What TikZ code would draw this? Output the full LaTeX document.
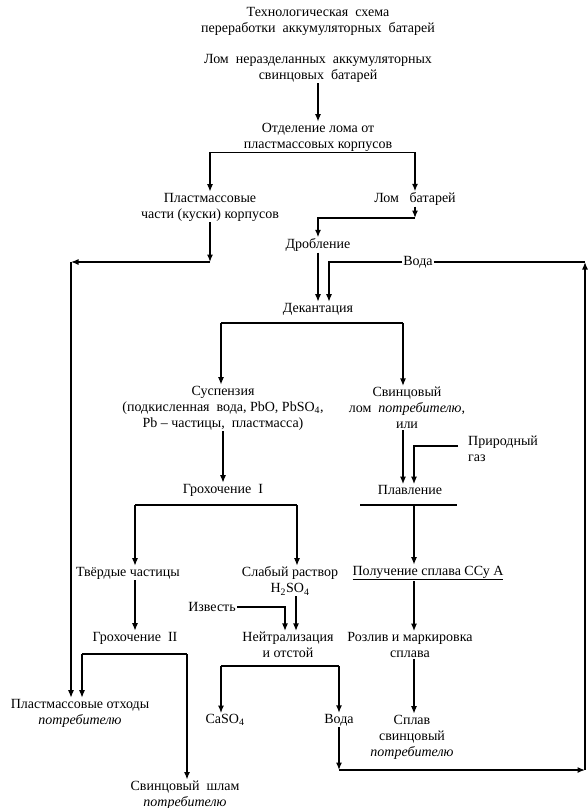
\documentclass[tikz,border=0pt]{standalone}
\usepackage{fontspec}
\setmainfont{Liberation Serif}
\usetikzlibrary{arrows.meta}

\tikzset{
  txt/.style={inner sep=1pt, align=center, font=\fontsize{14}{16}\selectfont},
  arr/.style={-{Latex[length=7.5pt,width=6pt]}, line width=1.3pt},
  ln/.style={line width=1.2pt},
}

\begin{document}
\begin{tikzpicture}[x=1pt,y=1pt,yscale=-1,xscale=1]
\useasboundingbox (0,0) rectangle (587,808);

% Text Node
\node[txt] (title) at (318,21) {Технологическая~~схема\\переработки~~аккумуляторных~~батарей};
% Text Node
\node[txt] (lom) at (318,68) {Лом~~неразделанных~~аккумуляторных\\свинцовых~~батарей};
% Text Node
\node[txt] (otdel) at (318,137) {Отделение лома от\\пластмассовых корпусов};
% Text Node
\node[txt] (plast) at (210,207) {Пластмассовые\\части (куски) корпусов};
% Text Node
\node[txt] (lomb) at (415,199) {Лом~~~батарей};
% Text Node
\node[txt] (drob) at (318,245) {Дробление};
% Text Node
\node[txt] (voda1) at (418,262) {Вода};
% Text Node
\node[txt] (dekant) at (318,309) {Декантация};
% Text Node
\node[txt] (susp) at (223,408) {Суспензия\\(подкисленная~~вода, PbO, PbSO\textsubscript{4},\\Pb – частицы,~~пластмасса)};
% Text Node
\node[txt] (svlom) at (407,408) {Свинцовый\\лом~~\textit{потребителю},\\или};
% Text Node
\node[txt, anchor=west, align=left] (prirod) at (467,449) {Природный\\газ};
% Text Node
\node[txt] (groh1) at (223,490) {Грохочение~~I};
% Text Node
\node[txt] (plav) at (410,490) {Плавление};
% Text Node
\node[txt] (tverd) at (128,573) {Твёрдые частицы};
% Text Node
\node[txt] (slab) at (290,581) {Слабый раствор\\H\textsubscript{2}SO\textsubscript{4}};
% Text Node
\node[txt] (polu) at (428,573) {\underline{Получение сплава ССу А}};
% Text Node
\node[txt] (izvest) at (212,607) {Известь};
% Text Node
\node[txt] (groh2) at (135,638) {Грохочение~~II};
% Text Node
\node[txt] (neutr) at (288,645) {Нейтрализация\\и отстой};
% Text Node
\node[txt] (rozliv) at (410,645) {Розлив и маркировка\\сплава};
% Text Node
\node[txt] (plotx) at (80,713) {Пластмассовые отходы\\\textit{потребителю}};
% Text Node
\node[txt] (caso4) at (225,720) {CaSO\textsubscript{4}};
% Text Node
\node[txt] (voda2) at (339,720) {Вода};
% Text Node
\node[txt] (splav) at (412,737) {Сплав\\свинцовый\\\textit{потребителю}};
% Text Node
\node[txt] (shlam) at (185,795) {Свинцовый~~шлам\\\textit{потребителю}};

% bends of the connectors
\coordinate (k1) at (415,218);
\coordinate (p1) at (210,262);
\coordinate (p2) at (71,262);
\coordinate (ne) at (585,262);
\coordinate (se) at (585,770);
\coordinate (sw) at (voda2 |- se);
\coordinate (d1) at (221,323);
\coordinate (d2) at (403,323);
\coordinate (g1l) at (135,505);
\coordinate (g1r) at (297,505);
\coordinate (pl1) at (360,505);
\coordinate (pl2) at (457,505);
\coordinate (pl0) at (414,505);
\coordinate (h1) at (82,654);
\coordinate (h2) at (187,654);
\coordinate (n1) at (221,666);
\coordinate (n2) at (339,666);

%Straight Lines
\draw[arr] (lom) -- (otdel);
\draw[arr] (otdel.south) -| (plast);
\draw[arr] (otdel.south) -| (lomb);
\draw[arr] (lomb) -- (k1);
\draw[arr] (k1) -| (drob);
%Straight Lines
\draw[arr] (plast) -- (p1);
\draw[arr] (p1) -- (p2);
\draw[arr] (p2) -- (p2 |- plotx.north);
%Straight Lines
\draw[ln] (voda1) -- (ne);
\draw[arr] (voda1) -| ([xshift=11pt]dekant.north);
\draw[arr] (drob) -- (drob |- dekant.north);
%Straight Lines
\draw[ln] (d1) -- (d2);
\draw[arr] (d1) -- (d1 |- susp.north);
\draw[arr] (d2) -- (d2 |- svlom.north);
\draw[arr] (susp) -- (groh1);
\draw[arr] ([xshift=-4pt]svlom.south) -- ([xshift=-4pt]svlom.south |- plav.north);
\draw[arr] ([xshift=-9pt,yshift=-3pt]prirod.west) -| (pl0 |- plav.north);
%Straight Lines
\draw[ln] (g1l) -- (g1r);
\draw[arr] (g1l) -- (g1l |- tverd.north);
\draw[arr] (g1r) -- (g1r |- slab.north);
\draw[ln] (pl1) -- (pl2);
\draw[arr] (pl0) -- (pl0 |- polu.north);
%Straight Lines
\draw[arr] (tverd.south -| groh2) -- (groh2);
\draw[arr] (izvest) -| ([xshift=-3pt]neutr.north);
\draw[arr] ([xshift=8pt]neutr.north |- slab.south) -- ([xshift=8pt]neutr.north);
\draw[arr] (polu.south -| pl0) -- (pl0 |- rozliv.north);
\draw[arr] (rozliv.south -| pl0) -- (pl0 |- splav.north);
%Straight Lines
\draw[ln] (h1) -- (h2);
\draw[arr] (h1) -- (h1 |- plotx.north);
\draw[arr] (h2) -- (h2 |- shlam.north);
\draw[ln] (n1) -- (n2);
\draw[arr] (n1) -- (n1 |- caso4.north);
\draw[arr] (n2) -- (voda2);
%Straight Lines
\draw[arr] (voda2) -- (sw);
\draw[arr] (sw) -- (se);
\draw[arr] (se) -- (ne);

\end{tikzpicture}
\end{document}
